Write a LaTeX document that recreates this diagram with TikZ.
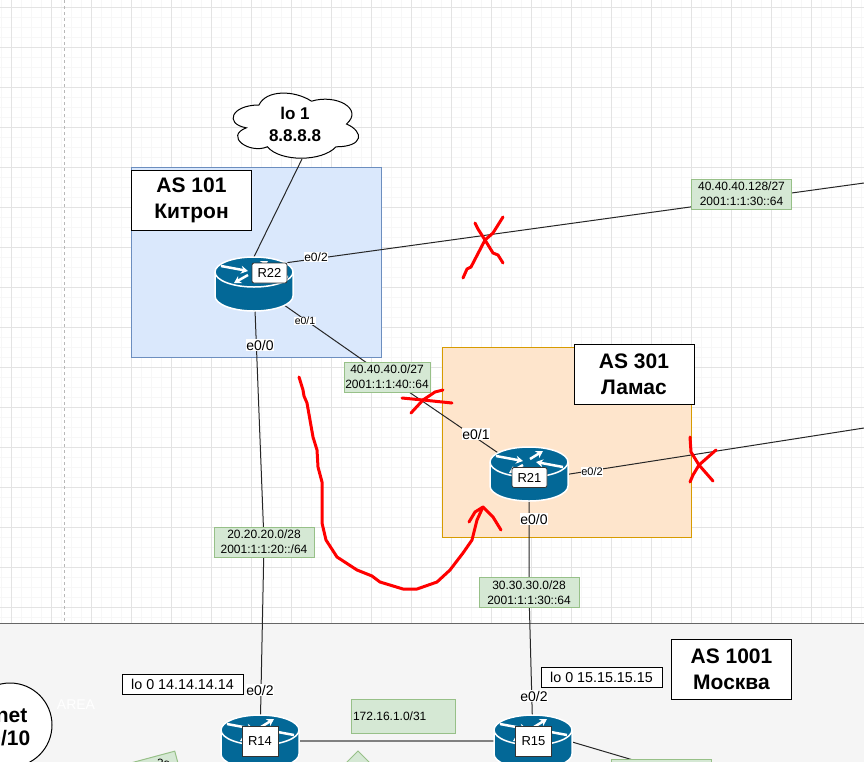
\documentclass[tikz,border=0pt]{standalone}
\usepackage{fontspec}
\setmainfont{Liberation Sans}
\usetikzlibrary{arrows.meta}
\pgfdeclarelayer{back}
\pgfdeclarelayer{lines}
\pgfsetlayers{back,lines,main}
\newcommand{\fsz}[1]{\fontsize{#1}{#1}\selectfont}
\definecolor{routerblue}{HTML}{036897}
\definecolor{gfill}{HTML}{D5E8D4}
\definecolor{gline}{HTML}{97C088}
\tikzset{
  asbox/.style={draw=black,fill=white,line width=1pt,align=center,font=\fsz{21}\bfseries,inner sep=0pt,minimum width=120pt,minimum height=60pt},
  netbox/.style={draw=gline,fill=gfill,line width=1pt,align=center,font=\fsz{12},inner sep=0pt,minimum width=100pt,minimum height=30pt},
  lobox/.style={draw=black,fill=white,line width=1pt,font=\fsz{14.3},inner sep=0pt,minimum width=121pt,minimum height=20pt},
  ifbig/.style={fill=white,font=\fsz{14},inner sep=0.5pt},
  ifsmall/.style={fill=white,font=\fsz{11},inner sep=0.5pt},
  rlabround/.style={draw=black!80,fill=white,rounded corners=2pt,line width=0.8pt,font=\fsz{13},inner sep=0pt,minimum width=35pt,minimum height=20pt},
  rlabsharp/.style={draw=black!80,fill=white,line width=1pt,font=\fsz{13},inner sep=0pt,minimum width=36pt,minimum height=30pt},
  routerpt/.style={inner sep=0pt,minimum width=78pt,minimum height=54pt},
  link/.style={draw=black!85,line width=1pt},
  redpen/.style={draw=red,line width=3pt,line cap=round,line join=round},
  rarrow/.style={draw=white,line width=2.5pt,-{Stealth[length=7pt,width=8pt]}}
}
\newcommand{\routerart}[2]{%
  \begin{scope}[shift={(#1,#2)}]
    \path[fill=routerblue,draw=white,line width=1.5pt] (-39,-12) -- (-39,12)
       arc[start angle=180,end angle=360,x radius=39pt,y radius=15pt] -- (39,-12)
       arc[start angle=0,end angle=180,x radius=39pt,y radius=15pt] -- cycle;
    \path[draw=white,line width=1.5pt] (-39,-12) arc[start angle=180,end angle=360,x radius=39pt,y radius=15pt];
    \draw[rarrow] (-33,-18) -- (-6,-13);
    \draw[rarrow] (1,-15) -- (14,-23);
    \draw[rarrow] (34,-7) -- (7,-12);
    \draw[rarrow] (-6,-9) -- (-20,-1);
  \end{scope}}
\begin{document}
\begin{tikzpicture}[x=1pt,y=-1pt]
\useasboundingbox (0,0) rectangle (864,761);
\clip (0,0) rectangle (864,761);
\begin{pgfonlayer}{back}
  \fill[white] (0,0) rectangle (864,761);
  \foreach \x in {1,11,...,861} \draw[line width=1pt,draw=black!3] (\x,0) -- (\x,761);
  \foreach \y in {7,17,...,757} \draw[line width=1pt,draw=black!3] (0,\y) -- (864,\y);
  \foreach \x in {11,51,...,851} \draw[line width=1pt,draw=black!11] (\x,0) -- (\x,761);
  \foreach \y in {7,47,...,727} \draw[line width=1pt,draw=black!11] (0,\y) -- (864,\y);
  \draw[line width=1pt,draw=black!28,dash pattern=on 3pt off 3pt] (64.5,0) -- (64.5,623);
  \path[fill=black!4,draw=black!60,line width=1pt] (-5,623.5) rectangle (870,790);
  \path[fill={rgb,255:red,218;green,232;blue,252},draw={rgb,255:red,108;green,142;blue,191},line width=1pt] (131.5,167.5) rectangle (381.5,357.5);
  \path[fill={rgb,255:red,254;green,229;blue,204},draw={rgb,255:red,215;green,155;blue,0},line width=1pt] (442,347.5) rectangle (691.5,537.5);
\end{pgfonlayer}

% free ends
\coordinate (endA) at (864,183);
\coordinate (endB) at (864,428);
\coordinate (endC) at (300,775);
\coordinate (endD) at (650,765);
\coordinate (cloudfoot) at (302,159);

% routers
\routerart{254}{284}
\node[routerpt] (r22) at (254,284) {};
\routerart{529}{474}
\node[routerpt] (r21) at (529,474) {};
\routerart{260}{742}
\node[routerpt] (r14) at (260,742) {};
\routerart{533}{742}
\node[routerpt] (r15) at (533,742) {};
\node[rlabround] (r22lab) at (269.5,273) {R22};
\node[rlabround] (r21lab) at (529.5,477.5) {R21};
\node[rlabsharp] (r14lab) at (260,741) {R14};
\node[rlabsharp] (r15lab) at (533.5,741) {R15};

% cloud
\begin{scope}[shift={(224,86)},x=140pt,y=-76pt]
  \path[draw=black,fill=white,line width=1pt] (.25,.25)
    .. controls (.05,.25) and (0,.5) .. (.16,.55)
    .. controls (0,.66) and (.18,.9) .. (.31,.8)
    .. controls (.4,1) and (.7,1) .. (.8,.8)
    .. controls (1,.8) and (1,.6) .. (.875,.5)
    .. controls (1,.3) and (.8,.1) .. (.625,.2)
    .. controls (.5,.05) and (.3,.05) .. (.25,.25) -- cycle;
\end{scope}
\node[align=center,inner sep=0pt,font=\fsz{17}\bfseries] (lo1) at (295,124) {lo 1\\[5pt]8.8.8.8};

% AS titles
\node[asbox] (as101) at (191.5,200) {AS 101\\[5pt]Китрон};
\node[asbox] (as301) at (634,374) {AS 301\\[5pt]Ламас};
\node[asbox] (as1001) at (731.5,669.5) {AS 1001\\[5pt]Москва};

% network boxes
\node[netbox] (n128) at (741.5,194) {40.40.40.128/27\\[3pt]2001:1:1:30::64};
\node[netbox,minimum width=86pt] (n40) at (387,377) {40.40.40.0/27\\[3pt]2001:1:1:40::64};
\node[netbox] (n20) at (264,542) {20.20.20.0/28\\[3pt]2001:1:1:20::/64};
\node[netbox] (n30) at (529,592.5) {30.30.30.0/28\\[3pt]2001:1:1:30::64};
\node[netbox,minimum width=104pt,minimum height=34pt,text width=100pt,align=left] (n172) at (403,716) {172.16.1.0/31};
\node[netbox,minimum width=100pt] (nlow) at (661.5,774) {};
\node[netbox,rotate=15,minimum width=80pt] (nrot) at (140,776) {};
\node[font=\fsz{12},rotate=-14,fill=none] (nrottext) at (163,764) {28};
\path[draw=gline,fill=gfill,line width=1pt] (358,751) -- (328,781) -- (358,811) -- (388,781) -- cycle;

% lo boxes
\node[lobox] (lo14) at (182.5,684) {lo 0 14.14.14.14};
\node[lobox] (lo15) at (601.5,677) {lo 0 15.15.15.15};

% internet circle
\node[font=\fsz{14},text=white,inner sep=0pt] (areatxt) at (76,705) {AREA};
\node[circle,draw=black,fill=white,line width=1pt,minimum size=84pt,inner sep=0pt] (inet) at (10,725) {};
\node[font=\fsz{21}\bfseries,anchor=east,inner sep=0pt] (inet1) at (27.5,716) {net};
\node[font=\fsz{21}\bfseries,anchor=east,inner sep=0pt] (inet2) at (30.5,738) {0/10};

% interface labels
\node[ifsmall,font=\fsz{12}] (i22b) at (316,257) {e0/2};
\node[ifsmall,font=\fsz{10.5}] (i22a) at (305,321) {e0/1};
\node[ifbig] (i22c) at (260,345) {e0/0};
\node[ifbig] (i21a) at (476,434) {e0/1};
\node[ifsmall] (i21b) at (592,472) {e0/2};
\node[ifbig] (i21c) at (534,519) {e0/0};
\node[ifbig] (i14) at (260,690) {e0/2};
\node[ifbig] (i15) at (534,696) {e0/2};

\begin{pgfonlayer}{lines}
  \draw[link] (cloudfoot) -- (r22.north);
  \draw[link] (r22lab.north east) -- (endA);
  \draw[link] (r22.center) -- (n40.center) -- (r21.center);
  \draw[link] (r22.center) -- (n20.center) -- (r14.center);
  \draw[link] (r21.center) -- (n30.center) -- (r15.center);
  \draw[link] (r21lab.east) -- (endB);
  \draw[draw=black!50,line width=2pt] (r14lab.center) -- (r15lab.center);
  \draw[link] (r14.center) -- (endC);
  \draw[link] (r15.east) -- (endD);
\end{pgfonlayer}

% red strokes
\draw[redpen] (299,377) -- (303,390) -- (304,396) -- (307,403) -- (310,420) -- (313,437) -- (317,450) -- (318,467) -- (322,482) -- (322,523) -- (326,540) -- (337,557) -- (357,570) -- (372,576) -- (380,582) -- (403,589) -- (417,589) -- (437,582) -- (450,570) -- (463,553) -- (472,540) -- (477,520) -- (483,507);
\draw[redpen] (469,522) -- (475,512) -- (483,507) -- (493,517) -- (501,530);
\draw[redpen] (402,398) -- (423,400) -- (452,403);
\draw[redpen] (411,413) -- (423,400) -- (435,392) -- (443,390);
\draw[redpen] (463,278) -- (467,269) -- (471,267) -- (485,240) -- (493,233) -- (503,217);
\draw[redpen] (475,223) -- (478,229) -- (485,240) -- (493,253) -- (498,255) -- (503,263);
\draw[redpen] (690,437) -- (691,452) -- (699,465) -- (713,481);
\draw[redpen] (716,450) -- (699,465) -- (693,475) -- (690,482);
\end{tikzpicture}
\end{document}
